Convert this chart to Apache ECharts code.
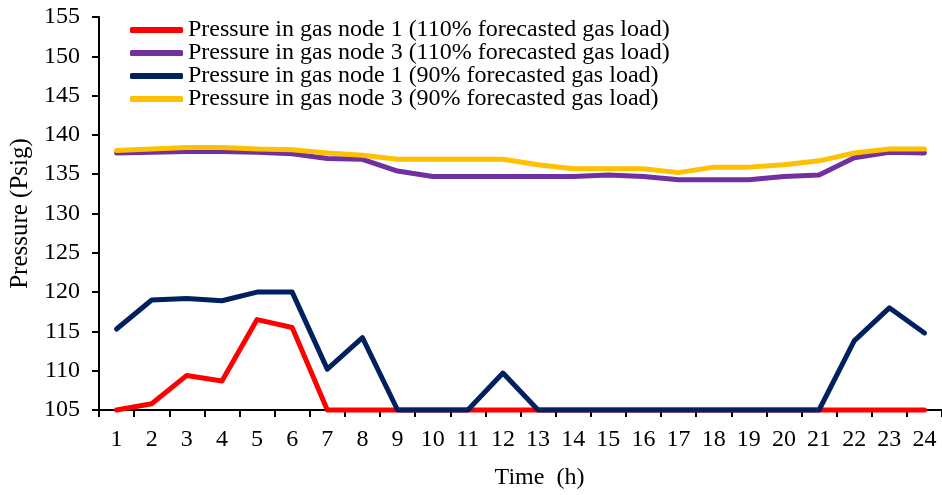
<!DOCTYPE html>
<html><head><meta charset="utf-8">
<script src="https://cdn.jsdelivr.net/npm/echarts@6/dist/echarts.min.js"></script>
<style>html,body{margin:0;padding:0;background:#fff}#c{width:942px;height:495px}</style>
</head><body><div id="c"></div>
<script>
const hours = ['1','2','3','4','5','6','7','8','9','10','11','12','13','14','15','16','17','18','19','20','21','22','23','24'];
const node1_110 = [105,105.8,109.4,108.7,116.5,115.5,105,105,105,105,105,105,105,105,105,105,105,105,105,105,105,105,105,105];
const node3_110 = [137.7,137.8,137.9,137.9,137.8,137.6,137.0,136.9,135.4,134.7,134.7,134.7,134.7,134.7,134.9,134.7,134.3,134.3,134.3,134.7,134.9,137.1,137.8,137.7];
const node1_90 = [115.3,119.0,119.2,118.9,120.0,120.0,110.2,114.2,105,105,105,109.7,105,105,105,105,105,105,105,105,105,113.8,118.0,114.8];
const node3_90 = [138.0,138.2,138.4,138.4,138.2,138.1,137.7,137.4,136.9,136.9,136.9,136.9,136.2,135.7,135.7,135.7,135.2,135.9,135.9,136.2,136.7,137.7,138.2,138.2];
const names = ['Pressure in gas node 1 (110% forecasted gas load)','Pressure in gas node 3 (110% forecasted gas load)','Pressure in gas node 1 (90% forecasted gas load)','Pressure in gas node 3 (90% forecasted gas load)'];
const colors = ['#FF0000','#7030A0','#002060','#FFC000'];
const datas = [node1_110, node3_110, node1_90, node3_90];
const font = 'Liberation Serif';
const chart = echarts.init(document.getElementById('c'));
chart.setOption({
  animation:false,
  grid:{left:99, top:17, bottom:83, right:-3, containLabel:false},
  legend:{
    orient:'vertical', left:125, top:13, itemWidth:53, itemHeight:6, itemGap:-1,
    icon:'roundRect',
    textStyle:{fontFamily:font, fontSize:24, color:'#000', lineHeight:23},
    data:names
  },
  xAxis:{
    type:'category', data:hours, boundaryGap:true,
    name:'Time  (h)', nameLocation:'middle', nameGap:56,
    nameTextStyle:{fontFamily:font, fontSize:24, color:'#000', padding:[0,0,0,38]},
    axisLine:{lineStyle:{color:'#000', width:2}},
    axisTick:{show:true, length:7, lineStyle:{color:'#000', width:2}, alignWithLabel:false},
    axisLabel:{fontFamily:font, fontSize:24, color:'#000', margin:18, interval:0}
  },
  yAxis:{
    type:'value', min:105, max:155, interval:5,
    name:'Pressure (Psig)', nameLocation:'middle', nameGap:65,
    nameTextStyle:{fontFamily:font, fontSize:25, color:'#000'},
    axisLine:{show:true, lineStyle:{color:'#000', width:2}},
    axisTick:{show:true, length:7, lineStyle:{color:'#000', width:2}},
    axisLabel:{fontFamily:font, fontSize:24, color:'#000', margin:19},
    splitLine:{show:false}
  },
  series: datas.map((d,i)=>({
    name:names[i], type:'line', data:d, symbol:'none', clip:false,
    lineStyle:{color:colors[i], width:5, cap:'round', join:'round'},
    itemStyle:{color:colors[i]}
  }))
});
</script></body></html>
